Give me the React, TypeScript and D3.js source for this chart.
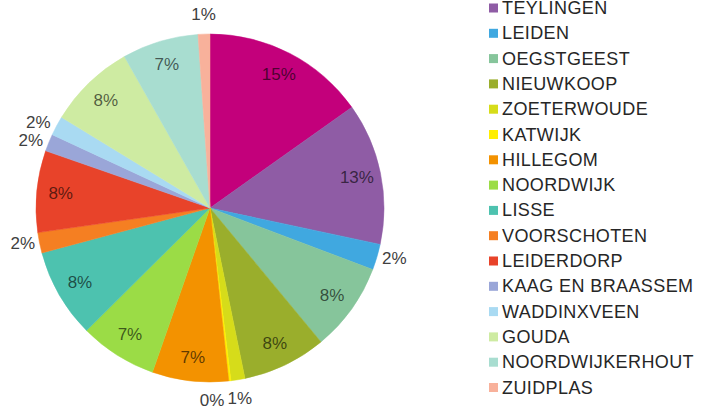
import React from "react";
import * as d3 from "d3";

const names = [
  "ALPHEN AAN DEN RIJN",
  "TEYLINGEN",
  "LEIDEN",
  "OEGSTGEEST",
  "NIEUWKOOP",
  "ZOETERWOUDE",
  "KATWIJK",
  "HILLEGOM",
  "NOORDWIJK",
  "LISSE",
  "VOORSCHOTEN",
  "LEIDERDORP",
  "KAAG EN BRAASSEM",
  "WADDINXVEEN",
  "GOUDA",
  "NOORDWIJKERHOUT",
  "ZUIDPLAS",
];
const values = [15.2, 13.2, 2.4, 8.25, 7.8, 1.3, 0.2, 7.1, 7.2, 8.3, 1.9, 7.6, 1.6, 1.8, 8.1, 7.1, 1.1];
const colors = [
  "#C3007B",
  "#8F5CA5",
  "#40A8E0",
  "#86C59B",
  "#9AAE2C",
  "#D6DC1A",
  "#FFEE00",
  "#F39200",
  "#9BDC46",
  "#4DC2AF",
  "#F57F22",
  "#E8432A",
  "#9AA6D8",
  "#A9DAF2",
  "#CEEBA2",
  "#A8DDD0",
  "#F8B19B",
];

const W = 703;
const H = 411;
const cx = 210;
const cy = 208;
const R = 174;
const labelFs = 17;
const legendFs = 18;

type Box = { x: number; y: number; w: number; h: number };

export default function App() {
  const total = d3.sum(values);
  const pie = d3
    .pie<number>()
    .sort(null)
    .value((d) => d)
    .startAngle(0)
    .endAngle(2 * Math.PI);
  const arcs = pie(values);
  const arcGen = d3.arc<d3.PieArcDatum<number>>().innerRadius(0).outerRadius(R);

  const pct = values.map((v) => Math.round((v / total) * 100) + "%");
  const textW = (t: string) =>
    t.split("").reduce((s, ch) => s + (ch === "%" ? 0.889 : 0.556), 0) * labelFs;

  const placed: Box[] = [];
  const overlaps = (b: Box) =>
    placed.some(
      (p) => b.x < p.x + p.w + 3 && b.x + b.w + 3 > p.x && b.y < p.y + p.h && b.y + b.h > p.y
    );

  const labels = arcs.map((a, i) => {
    const mid = (a.startAngle + a.endAngle) / 2;
    const s = Math.sin(mid);
    const c = Math.cos(mid);
    const text = pct[i];
    if (values[i] >= 3) {
      const r = 150;
      return { x: cx + r * s, y: cy - r * c, text, inside: true };
    }
    const d = R + 3 + 8 * Math.abs(c);
    const px = cx + d * s;
    const py = cy - d * c;
    const w = textW(text);
    const h = labelFs;
    const box: Box = { x: 0, y: 0, w, h };
    box.x = s > 0.4 ? px : s < -0.4 ? px - w : px - w / 2;
    box.y = c > 0.7 ? py - h : c < -0.7 ? py : py - h / 2;
    let guard = 0;
    while (overlaps(box) && guard < 200) {
      if (Math.abs(c) > 0.7) box.x += c < 0 ? -1 : 1;
      else box.y += s < 0 ? -1 : 1;
      guard++;
    }
    placed.push(box);
    return { x: box.x + box.w / 2, y: box.y + box.h / 2, text, inside: false };
  });

  const legendY = d3
    .scaleLinear()
    .domain([0, names.length - 1])
    .range([-17.3, -17.3 + 25.3 * (names.length - 1)]);

  return (
    <svg
      width={W}
      height={H}
      style={{ position: "absolute", left: 0, top: 0, background: "#fff" }}
      fontFamily="'Liberation Sans', Arial, sans-serif"
    >
      <g transform={`translate(${cx},${cy})`}>
        {arcs.map((a, i) => (
          <path key={i} d={arcGen(a) || ""} fill={colors[i]} stroke={colors[i]} strokeWidth={0.5} />
        ))}
      </g>
      {labels.map((l, i) => (
        <text
          key={i}
          x={l.x}
          y={l.y}
          textAnchor="middle"
          dominantBaseline="central"
          fontSize={labelFs}
          fill={l.inside ? "#000" : "#404040"}
          fillOpacity={l.inside ? 0.62 : 1}
        >
          {l.text}
        </text>
      ))}
      <g>
        {names.map((n, i) => (
          <g key={n} transform={`translate(489,${legendY(i)})`}>
            <rect x={0} y={-4.5} width={9} height={9} fill={colors[i]} />
            <text x={13} y={0} dominantBaseline="central" fontSize={legendFs} fill="#262626" letterSpacing={0.4}>
              {n}
            </text>
          </g>
        ))}
      </g>
    </svg>
  );
}
